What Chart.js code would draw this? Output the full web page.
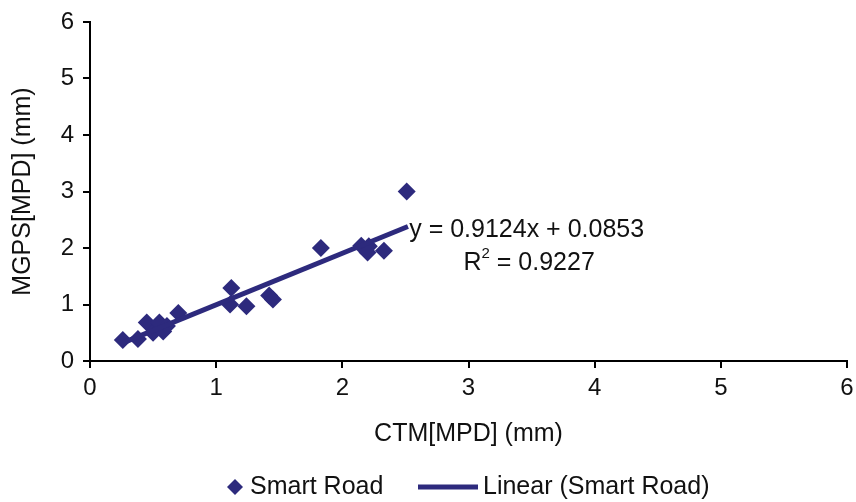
<!DOCTYPE html>
<html>
<head>
<meta charset="utf-8">
<script src="https://cdn.jsdelivr.net/npm/chart.js@4"></script>
<style>
  html, body { margin: 0; padding: 0; background: #fff; }
  #wrap { width: 856px; height: 502px; position: relative; }
</style>
</head>
<body>
<div id="wrap"><canvas id="chart"></canvas></div>
<script>
// CTM vs MGPS (MPD), Smart Road
const ctmX = [0.26, 0.38, 0.45, 0.50, 0.55, 0.58, 0.61, 0.70, 1.11, 1.12, 1.24, 1.42, 1.45, 1.83, 2.15, 2.21, 2.20, 2.33, 2.51];
const mgpsY = [0.37, 0.39, 0.68, 0.50, 0.68, 0.52, 0.62, 0.85, 1.00, 1.29, 0.97, 1.16, 1.09, 2.00, 2.04, 2.03, 1.92, 1.95, 3.00];

// trendline end points
const trendX = [0.26, 2.52];
const trendY = [0.32, 2.38];

const axisTicks = [0, 1, 2, 3, 4, 5, 6];
const equationText = 'y = 0.9124x + 0.0853';
const r2Text = ['R', '2', ' = 0.9227'];
const legendLabels = ['Smart Road', 'Linear (Smart Road)'];

const navy = '#2d2a7d';
const ink = '#111';
const fontFamily = '"Liberation Sans", Arial, sans-serif';

// equation label + legend drawn by hand
const extras = {
  id: 'extras',
  afterDraw(chart) {
    const ctx = chart.ctx;
    const xs = chart.scales.x, ys = chart.scales.y;
    ctx.save();
    ctx.fillStyle = ink;
    ctx.textBaseline = 'middle';
    ctx.font = '25px ' + fontFamily;

    // equation
    let ex = xs.getPixelForValue(2.53);
    ctx.fillText(equationText, ex, ys.getPixelForValue(2.32));
    let ry = ys.getPixelForValue(1.73);
    let rx = xs.getPixelForValue(2.96);
    ctx.fillText(r2Text[0], rx, ry);
    rx += ctx.measureText(r2Text[0]).width;
    ctx.font = '15px ' + fontFamily;
    ctx.fillText(r2Text[1], rx, ry - 9);
    rx += ctx.measureText(r2Text[1]).width;
    ctx.font = '25px ' + fontFamily;
    ctx.fillText(r2Text[2], rx, ry);

    // legend
    const ly = 487;
    ctx.fillStyle = navy;
    ctx.beginPath();
    ctx.moveTo(235, ly - 8);
    ctx.lineTo(243, ly);
    ctx.lineTo(235, ly + 8);
    ctx.lineTo(227, ly);
    ctx.closePath();
    ctx.fill();
    ctx.fillStyle = ink;
    ctx.fillText(legendLabels[0], 250, ly);
    ctx.strokeStyle = navy;
    ctx.lineWidth = 5;
    ctx.beginPath();
    ctx.moveTo(418, ly);
    ctx.lineTo(478, ly);
    ctx.stroke();
    ctx.fillText(legendLabels[1], 483, ly);
    ctx.restore();
  }
};

const axisCommon = {
  type: 'linear',
  min: axisTicks[0],
  max: axisTicks[axisTicks.length - 1],
  afterBuildTicks: s => { s.ticks = axisTicks.map(v => ({ value: v })); },
  border: { color: '#000', width: 2 },
  grid: { drawOnChartArea: false, drawTicks: true, tickLength: 7, color: '#000', lineWidth: 2 },
};

new Chart(document.getElementById('chart'), {
  type: 'scatter',
  data: {
    datasets: [
      {
        label: legendLabels[1],
        type: 'line',
        data: trendX.map((x, i) => ({ x: x, y: trendY[i] })),
        borderColor: navy,
        borderWidth: 5,
        pointRadius: 0,
        fill: false,
      },
      {
        label: legendLabels[0],
        data: ctmX.map((x, i) => ({ x: x, y: mgpsY[i] })),
        pointStyle: 'rectRot',
        pointRadius: 9,
        pointHoverRadius: 9,
        backgroundColor: navy,
        borderColor: navy,
        borderWidth: 0,
      },
    ]
  },
  options: {
    responsive: true,
    maintainAspectRatio: false,
    animation: false,
    layout: { padding: { top: 22, right: 7, bottom: 51, left: 0 } },
    plugins: {
      legend: { display: false },
      tooltip: { enabled: false },
    },
    scales: {
      x: Object.assign({}, axisCommon, {
        afterFit: s => { s.height = 90; s.paddingRight = 0; s.paddingLeft = 0; },
        ticks: { color: ink, padding: 6, font: { family: fontFamily, size: 24 } },
        title: { display: true, text: 'CTM[MPD] (mm)', color: ink, padding: { top: 0, bottom: 2 }, font: { family: fontFamily, size: 25 } },
      }),
      y: Object.assign({}, axisCommon, {
        afterFit: s => { s.width = 90; s.paddingTop = 0; s.paddingBottom = 0; },
        ticks: { color: ink, padding: 9, font: { family: fontFamily, size: 24 } },
        title: { display: true, text: 'MGPS[MPD] (mm)', color: ink, padding: { top: 8, bottom: 0 }, font: { family: fontFamily, size: 25 } },
      }),
    }
  },
  plugins: [extras]
});
</script>
</body>
</html>
